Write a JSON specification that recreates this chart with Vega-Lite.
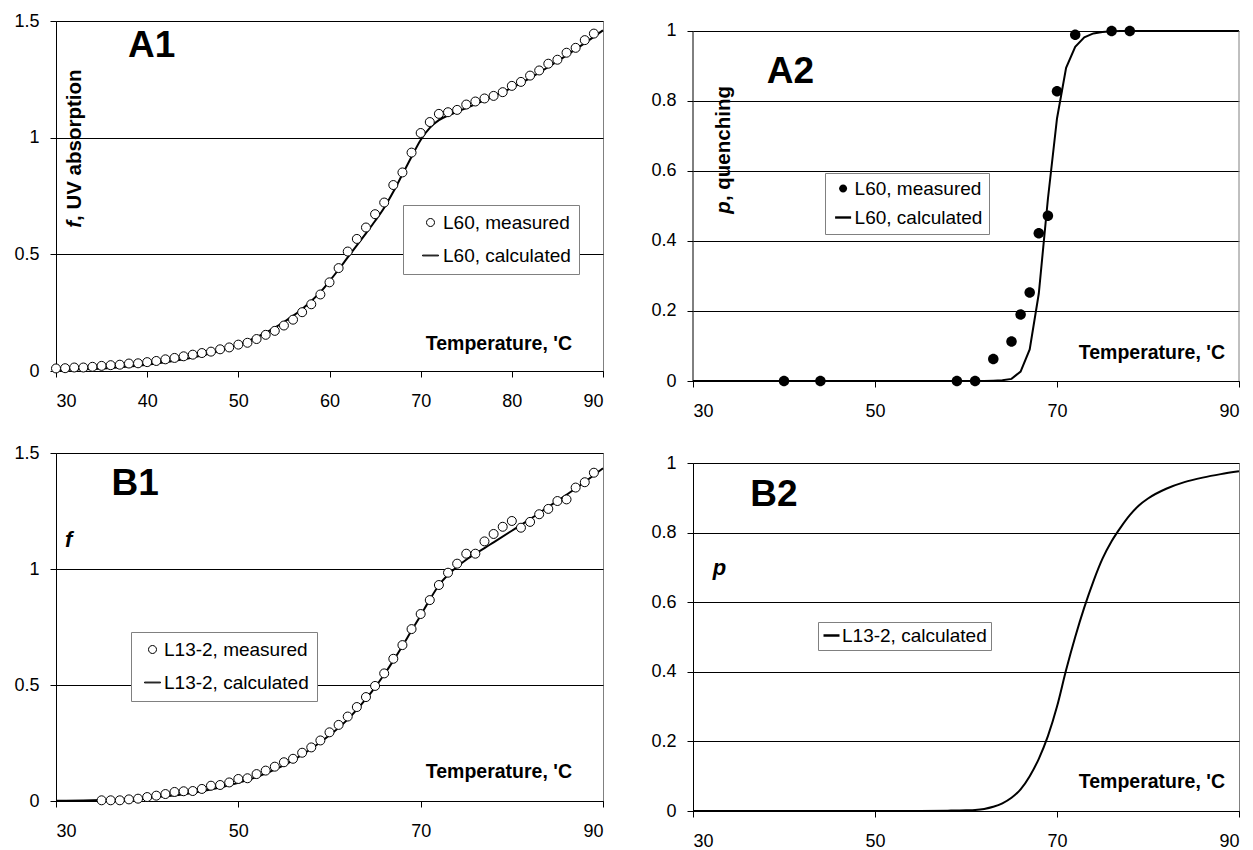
{
 "$schema": "https://vega.github.io/schema/vega-lite/v6.json",
 "background": "white",
 "padding": {"left": 13, "top": 8, "right": 0, "bottom": 0},
 "config": {
  "font": "Liberation Sans",
  "view": {"stroke": "#808080", "strokeWidth": 1},
  "axis": {"labelFont": "Liberation Sans", "labelFontSize": 18, "labelColor": "black", "domainColor": "black", "domainWidth": 1, "tickColor": "black", "tickSize": 6, "gridColor": "black", "gridWidth": 1},
  "axisX": {"grid": false, "labelPadding": 15},
  "axisY": {"grid": true, "labelPadding": 11, "format": "~g"},
  "legend": {"orient": "none", "fillColor": "white", "strokeColor": "#808080", "padding": 8, "labelFont": "Liberation Sans", "labelFontSize": 19, "labelColor": "black", "labelOffset": 6, "labelLimit": 0, "symbolSize": 256, "rowPadding": 13}
 },
 "datasets": {
  "a1m": [{"T":30,"v":0.011},{"T":31,"v":0.012},{"T":32,"v":0.015},{"T":33,"v":0.015},{"T":34,"v":0.018},{"T":35,"v":0.022},{"T":36,"v":0.025},{"T":37,"v":0.027},{"T":38,"v":0.032},{"T":39,"v":0.033},{"T":40,"v":0.038},{"T":41,"v":0.043},{"T":42,"v":0.05},{"T":43,"v":0.056},{"T":44,"v":0.063},{"T":45,"v":0.07},{"T":46,"v":0.077},{"T":47,"v":0.083},{"T":48,"v":0.093},{"T":49,"v":0.101},{"T":50,"v":0.113},{"T":51,"v":0.121},{"T":52,"v":0.137},{"T":53,"v":0.155},{"T":54,"v":0.172},{"T":55,"v":0.195},{"T":56,"v":0.22},{"T":57,"v":0.252},{"T":58,"v":0.286},{"T":59,"v":0.328},{"T":60,"v":0.38},{"T":61,"v":0.441},{"T":62,"v":0.512},{"T":63,"v":0.566},{"T":64,"v":0.615},{"T":65,"v":0.672},{"T":66,"v":0.722},{"T":67,"v":0.797},{"T":68,"v":0.851},{"T":69,"v":0.936},{"T":70,"v":1.02},{"T":71,"v":1.067},{"T":72,"v":1.102},{"T":73,"v":1.109},{"T":74,"v":1.119},{"T":75,"v":1.142},{"T":76,"v":1.155},{"T":77,"v":1.168},{"T":78,"v":1.179},{"T":79,"v":1.195},{"T":80,"v":1.222},{"T":81,"v":1.239},{"T":82,"v":1.266},{"T":83,"v":1.288},{"T":84,"v":1.317},{"T":85,"v":1.334},{"T":86,"v":1.364},{"T":87,"v":1.385},{"T":88,"v":1.418},{"T":89,"v":1.446}],
  "a1c": [{"T":30,"v":0.004},{"T":32,"v":0.006},{"T":34,"v":0.009},{"T":36,"v":0.013},{"T":38,"v":0.019},{"T":40,"v":0.027},{"T":42,"v":0.037},{"T":44,"v":0.05},{"T":46,"v":0.066},{"T":48,"v":0.087},{"T":50,"v":0.113},{"T":51,"v":0.128},{"T":52,"v":0.145},{"T":53,"v":0.164},{"T":54,"v":0.186},{"T":55,"v":0.21},{"T":56,"v":0.236},{"T":57,"v":0.266},{"T":58,"v":0.3},{"T":59,"v":0.338},{"T":60,"v":0.385},{"T":61,"v":0.435},{"T":62,"v":0.487},{"T":63,"v":0.538},{"T":64,"v":0.59},{"T":65,"v":0.643},{"T":66,"v":0.7},{"T":67,"v":0.768},{"T":68,"v":0.843},{"T":69,"v":0.918},{"T":70,"v":0.99},{"T":71,"v":1.042},{"T":72,"v":1.075},{"T":73,"v":1.095},{"T":74,"v":1.111},{"T":75,"v":1.127},{"T":76,"v":1.143},{"T":77,"v":1.16},{"T":78,"v":1.177},{"T":79,"v":1.195},{"T":80,"v":1.214},{"T":82,"v":1.255},{"T":84,"v":1.303},{"T":86,"v":1.353},{"T":88,"v":1.405},{"T":90,"v":1.46}],
  "a2m": [{"T":40,"v":0},{"T":44,"v":0},{"T":59,"v":0},{"T":61,"v":0},{"T":63,"v":0.063},{"T":65,"v":0.113},{"T":66,"v":0.19},{"T":67,"v":0.253},{"T":68,"v":0.422},{"T":69,"v":0.472},{"T":70,"v":0.828},{"T":72,"v":0.989},{"T":76,"v":1.0},{"T":78,"v":1.0}],
  "a2c": [{"T":30,"v":0},{"T":35,"v":0},{"T":40,"v":0},{"T":45,"v":0},{"T":50,"v":0},{"T":55,"v":0},{"T":60,"v":0},{"T":62,"v":0},{"T":63,"v":0.001},{"T":64,"v":0.002},{"T":65,"v":0.006},{"T":66,"v":0.027},{"T":67,"v":0.09},{"T":68,"v":0.25},{"T":69,"v":0.52},{"T":70,"v":0.75},{"T":71,"v":0.895},{"T":72,"v":0.955},{"T":73,"v":0.982},{"T":74,"v":0.993},{"T":75,"v":0.997},{"T":76,"v":0.999},{"T":77,"v":1},{"T":80,"v":1},{"T":85,"v":1},{"T":90,"v":1}],
  "b1m": [{"T":35,"v":0.003},{"T":36,"v":0.003},{"T":37,"v":0.003},{"T":38,"v":0.007},{"T":39,"v":0.01},{"T":40,"v":0.017},{"T":41,"v":0.023},{"T":42,"v":0.03},{"T":43,"v":0.039},{"T":44,"v":0.042},{"T":45,"v":0.043},{"T":46,"v":0.052},{"T":47,"v":0.066},{"T":48,"v":0.069},{"T":49,"v":0.08},{"T":50,"v":0.095},{"T":51,"v":0.098},{"T":52,"v":0.116},{"T":53,"v":0.131},{"T":54,"v":0.148},{"T":55,"v":0.167},{"T":56,"v":0.182},{"T":57,"v":0.208},{"T":58,"v":0.231},{"T":59,"v":0.261},{"T":60,"v":0.296},{"T":61,"v":0.328},{"T":62,"v":0.364},{"T":63,"v":0.405},{"T":64,"v":0.448},{"T":65,"v":0.496},{"T":66,"v":0.55},{"T":67,"v":0.613},{"T":68,"v":0.672},{"T":69,"v":0.741},{"T":70,"v":0.806},{"T":71,"v":0.866},{"T":72,"v":0.931},{"T":73,"v":0.984},{"T":74,"v":1.023},{"T":75,"v":1.066},{"T":76,"v":1.066},{"T":77,"v":1.119},{"T":78,"v":1.151},{"T":79,"v":1.182},{"T":80,"v":1.207},{"T":81,"v":1.178},{"T":82,"v":1.203},{"T":83,"v":1.236},{"T":84,"v":1.259},{"T":85,"v":1.293},{"T":86,"v":1.3},{"T":87,"v":1.351},{"T":88,"v":1.374},{"T":89,"v":1.415}],
  "b1c": [{"T":30,"v":0.001},{"T":33,"v":0.002},{"T":36,"v":0.005},{"T":38,"v":0.008},{"T":40,"v":0.013},{"T":42,"v":0.02},{"T":44,"v":0.029},{"T":46,"v":0.042},{"T":48,"v":0.058},{"T":50,"v":0.078},{"T":52,"v":0.103},{"T":54,"v":0.135},{"T":56,"v":0.175},{"T":58,"v":0.225},{"T":60,"v":0.283},{"T":62,"v":0.352},{"T":64,"v":0.44},{"T":65,"v":0.49},{"T":66,"v":0.545},{"T":67,"v":0.605},{"T":68,"v":0.668},{"T":69,"v":0.735},{"T":70,"v":0.8},{"T":71,"v":0.868},{"T":72,"v":0.93},{"T":73,"v":0.975},{"T":74,"v":1.01},{"T":75,"v":1.04},{"T":76,"v":1.066},{"T":77,"v":1.09},{"T":78,"v":1.115},{"T":80,"v":1.165},{"T":82,"v":1.215},{"T":84,"v":1.268},{"T":86,"v":1.32},{"T":88,"v":1.375},{"T":90,"v":1.434}],
  "b2c": [{"T":30,"v":0},{"T":40,"v":0},{"T":50,"v":0},{"T":55,"v":0.0003},{"T":58,"v":0.001},{"T":60,"v":0.002},{"T":61,"v":0.003},{"T":62,"v":0.006},{"T":63,"v":0.012},{"T":64,"v":0.022},{"T":65,"v":0.038},{"T":66,"v":0.062},{"T":67,"v":0.1},{"T":68,"v":0.15},{"T":69,"v":0.215},{"T":70,"v":0.3},{"T":71,"v":0.405},{"T":72,"v":0.5},{"T":73,"v":0.585},{"T":74,"v":0.66},{"T":75,"v":0.725},{"T":76,"v":0.775},{"T":77,"v":0.815},{"T":78,"v":0.85},{"T":79,"v":0.878},{"T":80,"v":0.898},{"T":82,"v":0.926},{"T":84,"v":0.945},{"T":86,"v":0.958},{"T":88,"v":0.968},{"T":90,"v":0.976}]
 },
 "spacing": 42,
 "resolve": {"scale": {"shape": "independent", "color": "independent"}, "legend": {"shape": "independent", "color": "independent"}},
 "hconcat": [
  {
   "vconcat": [
    {
     "width": 547, "height": 350,
     "layer": [
      {"data": {"name": "a1c"}, "mark": {"type": "line", "color": "black", "strokeWidth": 2, "interpolate": "monotone"},
       "encoding": {
        "x": {"field": "T", "type": "quantitative", "scale": {"domain": [30, 90], "nice": false}, "axis": {"values": [30, 40, 50, 60, 70, 80, 90], "title": null}},
        "y": {"field": "v", "type": "quantitative", "scale": {"domain": [0, 1.5], "nice": false}, "axis": {"values": [0, 0.5, 1, 1.5], "title": null}}
       }},
      {"data": {"name": "a1m"}, "mark": {"type": "point", "filled": true, "fill": "white", "stroke": "black", "strokeWidth": 1, "size": 324, "opacity": 1},
       "encoding": {
        "x": {"field": "T", "type": "quantitative"},
        "y": {"field": "v", "type": "quantitative"},
        "shape": {"datum": "L60, measured", "scale": {"domain": ["L60, measured", "L60, calculated"], "range": ["M0.5,0A0.5,0.5,0,1,1,-0.5,0A0.5,0.5,0,1,1,0.5,0Z", "M-1,-0.05H1V0.05H-1Z"]},
         "legend": {"title": null, "legendX": 347, "legendY": 184, "symbolOffset": 10, "labelOffset": 3, "symbolStrokeWidth": 1}}
       }},
      {"data": {"values": [{}]}, "mark": {"type": "point", "size": 1, "opacity": 0},
       "encoding": {"x": {"datum": 60, "type": "quantitative"}, "y": {"datum": 1.5514, "type": "quantitative"}}},
      {"data": {"values": [{}]}, "mark": {"type": "text", "text": "A1", "fontSize": 37, "fontWeight": "bold", "align": "left", "baseline": "alphabetic", "color": "black"},
       "encoding": {"x": {"datum": 37.9, "type": "quantitative"}, "y": {"datum": 1.346, "type": "quantitative"}}},
      {"data": {"values": [{}]}, "mark": {"type": "text", "text": "f", "fontSize": 20.5, "fontWeight": "bold", "fontStyle": "italic", "angle": 270, "align": "right", "baseline": "middle", "color": "black"},
       "encoding": {"x": {"datum": 32.03, "type": "quantitative"}, "y": {"datum": 0.643, "type": "quantitative"}}},
      {"data": {"values": [{}]}, "mark": {"type": "text", "text": ", UV absorption", "fontSize": 20.5, "fontWeight": "bold", "angle": 270, "align": "left", "baseline": "middle", "color": "black"},
       "encoding": {"x": {"datum": 32.03, "type": "quantitative"}, "y": {"datum": 0.643, "type": "quantitative"}}},
      {"data": {"values": [{}]}, "mark": {"type": "text", "text": "Temperature, 'C", "fontSize": 19.5, "fontWeight": "bold", "align": "right", "baseline": "alphabetic", "color": "black"},
       "encoding": {"x": {"datum": 86.6, "type": "quantitative"}, "y": {"datum": 0.09, "type": "quantitative"}}}
     ]
    },
    {
     "width": 547, "height": 348,
     "layer": [
      {"data": {"name": "b1c"}, "mark": {"type": "line", "color": "black", "strokeWidth": 2, "interpolate": "monotone"},
       "encoding": {
        "x": {"field": "T", "type": "quantitative", "scale": {"domain": [30, 90], "nice": false}, "axis": {"values": [30, 50, 70, 90], "title": null}},
        "y": {"field": "v", "type": "quantitative", "scale": {"domain": [0, 1.5], "nice": false}, "axis": {"values": [0, 0.5, 1, 1.5], "title": null}}
       }},
      {"data": {"name": "b1m"}, "mark": {"type": "point", "filled": true, "fill": "white", "stroke": "black", "strokeWidth": 1, "size": 324, "opacity": 1},
       "encoding": {
        "x": {"field": "T", "type": "quantitative"},
        "y": {"field": "v", "type": "quantitative"},
        "shape": {"datum": "L13-2, measured", "scale": {"domain": ["L13-2, measured", "L13-2, calculated"], "range": ["M0.5,0A0.5,0.5,0,1,1,-0.5,0A0.5,0.5,0,1,1,0.5,0Z", "M-1,-0.05H1V0.05H-1Z"]},
         "legend": {"title": null, "legendX": 75, "legendY": 179, "symbolOffset": 4, "labelOffset": 2, "symbolStrokeWidth": 1}}
       }},
      {"data": {"values": [{}]}, "mark": {"type": "text", "text": "B1", "fontSize": 37, "fontWeight": "bold", "align": "left", "baseline": "alphabetic", "color": "black"},
       "encoding": {"x": {"datum": 36.1, "type": "quantitative"}, "y": {"datum": 1.319, "type": "quantitative"}}},
      {"data": {"values": [{}]}, "mark": {"type": "text", "text": "f", "fontSize": 22, "fontWeight": "bold", "fontStyle": "italic", "align": "center", "baseline": "middle", "color": "black"},
       "encoding": {"x": {"datum": 31.4, "type": "quantitative"}, "y": {"datum": 1.125, "type": "quantitative"}}},
      {"data": {"values": [{}]}, "mark": {"type": "text", "text": "Temperature, 'C", "fontSize": 19.5, "fontWeight": "bold", "align": "right", "baseline": "alphabetic", "color": "black"},
       "encoding": {"x": {"datum": 86.6, "type": "quantitative"}, "y": {"datum": 0.099, "type": "quantitative"}}}
     ]
    }
   ],
   "spacing": 82,
   "bounds": "flush",
   "resolve": {"scale": {"shape": "independent", "color": "independent"}, "legend": {"shape": "independent", "color": "independent"}}
  },
  {
   "vconcat": [
    {
     "width": 546, "height": 360,
     "view": {"stroke": null},
     "layer": [
      {"data": {"name": "a2c"}, "mark": {"type": "line", "color": "black", "strokeWidth": 2},
       "encoding": {
        "x": {"field": "T", "type": "quantitative", "scale": {"domain": [30, 90], "nice": false}, "axis": {"values": [30, 50, 70, 90], "title": null}},
        "y": {"field": "v", "type": "quantitative", "scale": {"domain": [0, 1.02857], "nice": false, "zero": true}, "axis": {"values": [0, 0.2, 0.4, 0.6, 0.8, 1], "title": null, "domain": false}}
       }},
      {"data": {"values": [{}]}, "mark": {"type": "rule", "color": "#808080", "strokeWidth": 1},
       "encoding": {"x": {"datum": 90, "type": "quantitative"}, "y": {"datum": 0, "type": "quantitative"}, "y2": {"datum": 1}}},
      {"data": {"values": [{}]}, "mark": {"type": "rule", "color": "black", "strokeWidth": 1},
       "encoding": {"x": {"datum": 30, "type": "quantitative"}, "y": {"datum": 0, "type": "quantitative"}, "y2": {"datum": 1}}},
      {"data": {"name": "a2m"}, "mark": {"type": "point", "filled": true, "color": "black", "size": 441, "opacity": 1},
       "encoding": {
        "x": {"field": "T", "type": "quantitative"},
        "y": {"field": "v", "type": "quantitative"},
        "shape": {"datum": "L60, measured", "scale": {"domain": ["L60, measured", "L60, calculated"], "range": ["M0.5,0A0.5,0.5,0,1,1,-0.5,0A0.5,0.5,0,1,1,0.5,0Z", "M-1,-0.15H1V0.15H-1Z"]},
         "legend": {"title": null, "legendX": 132, "legendY": 152, "padding": 6, "rowPadding": 9, "symbolOffset": 2.6, "labelOffset": 2, "symbolFillColor": "black", "symbolStrokeWidth": 0}}
       }},
      {"data": {"values": [{}]}, "mark": {"type": "text", "text": "A2", "fontSize": 37, "fontWeight": "bold", "align": "left", "baseline": "alphabetic", "color": "black"},
       "encoding": {"x": {"datum": 38.1, "type": "quantitative"}, "y": {"datum": 0.851, "type": "quantitative"}}},
      {"data": {"values": [{}]}, "mark": {"type": "text", "text": "p", "fontSize": 20.5, "fontWeight": "bold", "fontStyle": "italic", "angle": 270, "align": "right", "baseline": "middle", "color": "black"},
       "encoding": {"x": {"datum": 33.4, "type": "quantitative"}, "y": {"datum": 0.514, "type": "quantitative"}}},
      {"data": {"values": [{}]}, "mark": {"type": "text", "text": " , quenching", "fontSize": 20.5, "fontWeight": "bold", "angle": 270, "align": "left", "baseline": "middle", "color": "black"},
       "encoding": {"x": {"datum": 33.4, "type": "quantitative"}, "y": {"datum": 0.514, "type": "quantitative"}}},
      {"data": {"values": [{}]}, "mark": {"type": "text", "text": "Temperature, 'C", "fontSize": 19.5, "fontWeight": "bold", "align": "right", "baseline": "alphabetic", "color": "black"},
       "encoding": {"x": {"datum": 88.46, "type": "quantitative"}, "y": {"datum": 0.063, "type": "quantitative"}}}
     ]
    },
    {
     "width": 546, "height": 348,
     "layer": [
      {"data": {"name": "b2c"}, "mark": {"type": "line", "strokeWidth": 2, "interpolate": "monotone"},
       "encoding": {
        "x": {"field": "T", "type": "quantitative", "scale": {"domain": [30, 90], "nice": false}, "axis": {"values": [30, 50, 70, 90], "title": null}},
        "y": {"field": "v", "type": "quantitative", "scale": {"domain": [0, 1], "nice": false}, "axis": {"values": [0, 0.2, 0.4, 0.6, 0.8, 1], "title": null}},
        "color": {"datum": "L13-2, calculated", "scale": {"range": ["black"]}, "legend": {"title": null, "legendX": 125, "legendY": 159, "padding": 4, "symbolOffset": 0, "labelOffset": 1, "symbolType": "stroke", "symbolStrokeWidth": 2.5, "symbolStrokeColor": "black"}}
       }},
      {"data": {"values": [{}]}, "mark": {"type": "text", "text": "B2", "fontSize": 37, "fontWeight": "bold", "align": "left", "baseline": "alphabetic", "color": "black"},
       "encoding": {"x": {"datum": 36.3, "type": "quantitative"}, "y": {"datum": 0.876, "type": "quantitative"}}},
      {"data": {"values": [{}]}, "mark": {"type": "text", "text": "p", "fontSize": 22, "fontWeight": "bold", "fontStyle": "italic", "align": "center", "baseline": "middle", "color": "black"},
       "encoding": {"x": {"datum": 32.9, "type": "quantitative"}, "y": {"datum": 0.697, "type": "quantitative"}}},
      {"data": {"values": [{}]}, "mark": {"type": "text", "text": "Temperature, 'C", "fontSize": 19.5, "fontWeight": "bold", "align": "right", "baseline": "alphabetic", "color": "black"},
       "encoding": {"x": {"datum": 88.46, "type": "quantitative"}, "y": {"datum": 0.065, "type": "quantitative"}}}
     ]
    }
   ],
   "spacing": 82,
   "bounds": "flush",
   "resolve": {"scale": {"shape": "independent", "color": "independent"}, "legend": {"shape": "independent", "color": "independent"}}
  }
 ]
}
